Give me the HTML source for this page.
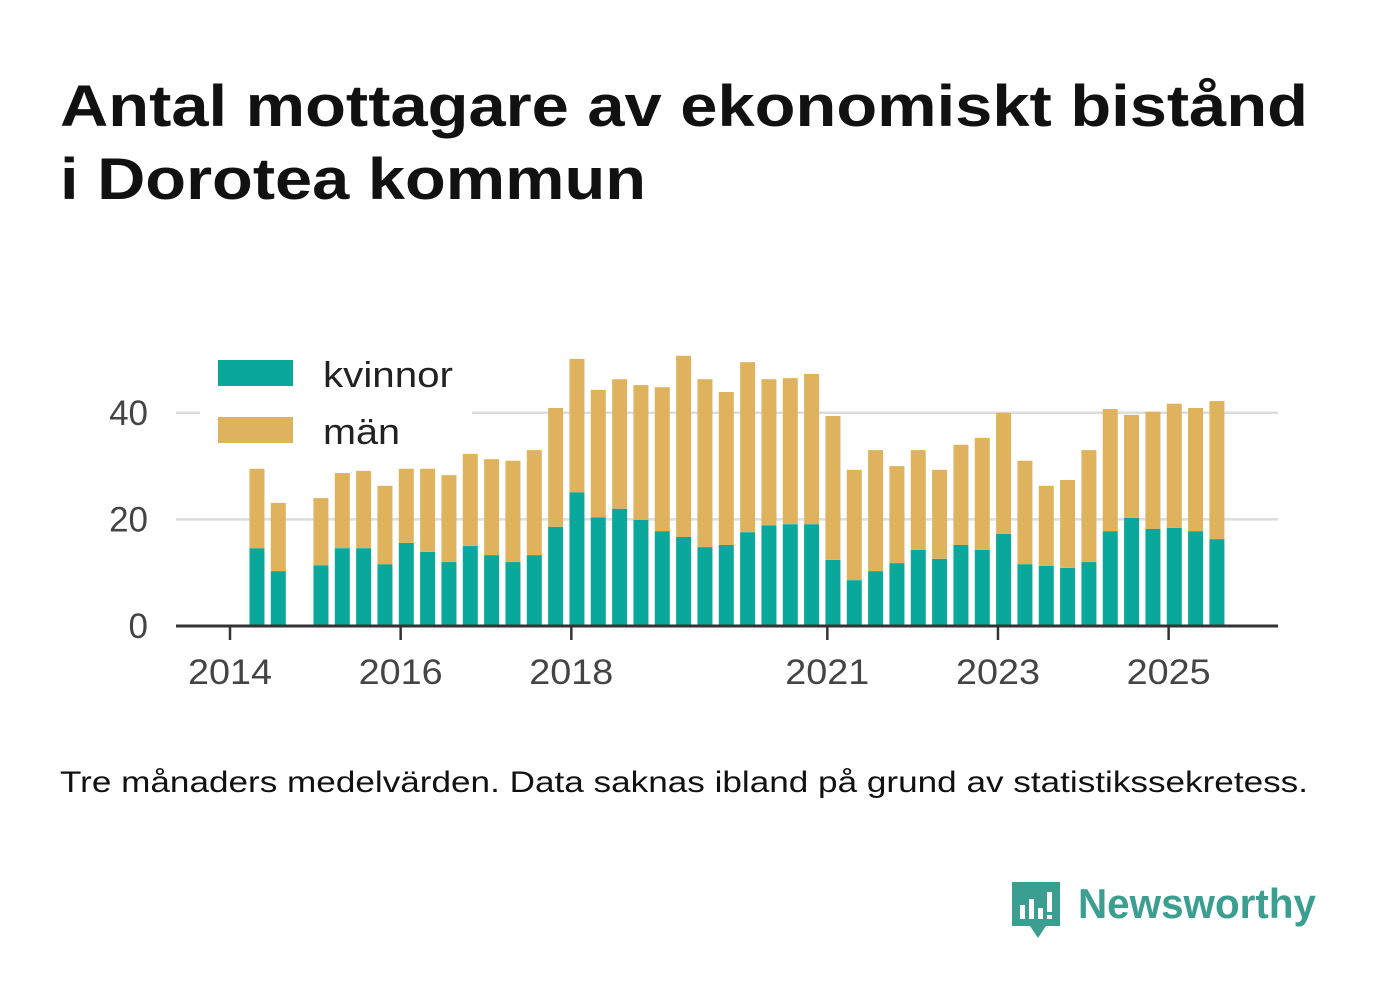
<!DOCTYPE html>
<html><head><meta charset="utf-8"><style>
body{margin:0;background:#fff;width:1382px;height:999px;overflow:hidden;font-family:"Liberation Sans",sans-serif}
</style></head><body>
<svg width="1382" height="999" xmlns="http://www.w3.org/2000/svg">
<text x="60" y="126" font-size="58" font-weight="bold" fill="#111" textLength="1248" lengthAdjust="spacingAndGlyphs">Antal mottagare av ekonomiskt bistånd</text>
<text x="60" y="199" font-size="58" font-weight="bold" fill="#111" textLength="586" lengthAdjust="spacingAndGlyphs">i Dorotea kommun</text>
<g id="grid"></g><g id="bars"></g><g id="axes"></g>
<rect x="200" y="345" width="272" height="105" fill="#fff"/>
<rect x="218" y="360" width="75" height="26" fill="#0aa89a"/>
<text x="323" y="387" font-size="36" fill="#222" textLength="130" lengthAdjust="spacingAndGlyphs">kvinnor</text>
<rect x="218" y="417" width="75" height="26" fill="#dfb25e"/>
<text x="323" y="444" font-size="36" fill="#222" textLength="77" lengthAdjust="spacingAndGlyphs">män</text>
<text x="60" y="792" font-size="30" fill="#111" textLength="1248" lengthAdjust="spacingAndGlyphs">Tre månaders medelvärden. Data saknas ibland på grund av statistikssekretess.</text>
<g>
<path d="M1012 882 h48 v44 h-14 l-8 12 l-8-12 h-18 z" fill="#3a9e90"/>
<rect x="1020" y="905" width="5" height="14" fill="#fff"/><rect x="1029" y="899" width="5" height="20" fill="#fff"/><rect x="1038" y="908" width="5" height="11" fill="#fff"/><rect x="1047" y="892" width="5" height="20" fill="#fff"/><rect x="1047" y="915" width="5" height="4" fill="#fff"/>
<text x="1078" y="918" font-size="42" font-weight="bold" fill="#3a9e90" textLength="238" lengthAdjust="spacingAndGlyphs">Newsworthy</text>
</g>
</svg>
<script>
const periods=["2014Q2","2014Q3","2014Q4","2015Q1","2015Q2","2015Q3","2015Q4","2016Q1","2016Q2","2016Q3","2016Q4","2017Q1","2017Q2","2017Q3","2017Q4","2018Q1","2018Q2","2018Q3","2018Q4","2019Q1","2019Q2","2019Q3","2019Q4","2020Q1","2020Q2","2020Q3","2020Q4","2021Q1","2021Q2","2021Q3","2021Q4","2022Q1","2022Q2","2022Q3","2022Q4","2023Q1","2023Q2","2023Q3","2023Q4","2024Q1","2024Q2","2024Q3","2024Q4","2025Q1","2025Q2","2025Q3"];
const kvinnor=[14.6,10.3,null,11.4,14.6,14.6,11.6,15.6,13.9,12,15,13.3,12,13.3,18.6,25.1,20.4,22,19.9,17.8,16.7,14.8,15.2,17.6,18.9,19.1,19.1,12.4,8.6,10.3,11.8,14.3,12.6,15.2,14.3,17.3,11.6,11.3,10.9,12,17.8,20.3,18.2,18.4,17.8,16.3];
const man=[14.9,12.8,null,12.6,14.1,14.5,14.7,13.9,15.6,16.3,17.3,18,19,19.7,22.3,25,23.9,24.3,25.3,27,34,31.5,28.7,31.9,27.4,27.4,28.2,27,20.7,22.7,18.2,18.7,16.7,18.8,21,22.7,19.4,15,16.5,21,22.9,19.3,22,23.3,23.1,25.9];
const yTicks=[0,20,40];
const xTicks=[2014,2016,2018,2021,2023,2025];
const NS="http://www.w3.org/2000/svg";
const x=v=>230+(v-2014)*85.33, y=v=>626-v*5.33;
function mk(t,a,p){const e=document.createElementNS(NS,t);for(const k in a)e.setAttribute(k,a[k]);p.appendChild(e);return e;}
const G=document.getElementById('grid'),B=document.getElementById('bars'),A=document.getElementById('axes');
yTicks.forEach(t=>{
 if(t>0){const l=mk('line',{x1:176,x2:1278,y1:y(t),y2:y(t),stroke:'#ddd','stroke-width':2.5},G);
 
 }
 const tx=mk('text',{x:148,y:y(t)+12,'text-anchor':'end','font-size':35,fill:'#444'},A);tx.textContent=t;
 
 
});
periods.forEach((p,i)=>{
 if(kvinnor[i]==null)return;
 const d=+p.slice(0,4)+(+p[5]-1)/4+0.066, cx=x(d);
 const r1=mk('rect',{x:cx-7.5,y:y(kvinnor[i]),width:15,height:y(0)-y(kvinnor[i]),fill:'#0aa89a'},B);
 
 
 const r2=mk('rect',{x:cx-7.5,y:y(kvinnor[i]+man[i]),width:15,height:y(kvinnor[i])-y(kvinnor[i]+man[i]),fill:'#dfb25e'},B);
 
 
});
const ax=mk('line',{x1:176,x2:1278,y1:626,y2:626,stroke:'#333','stroke-width':3},A);


xTicks.forEach(t=>{
 const l=mk('line',{x1:x(t),x2:x(t),y1:626,y2:640,stroke:'#333','stroke-width':2.5},A);
 
 
 const tx=mk('text',{x:x(t),y:684,'text-anchor':'middle','font-size':35,fill:'#444',textLength:84,lengthAdjust:'spacingAndGlyphs'},A);tx.textContent=t;
 
 
});
</script>
</body></html>
